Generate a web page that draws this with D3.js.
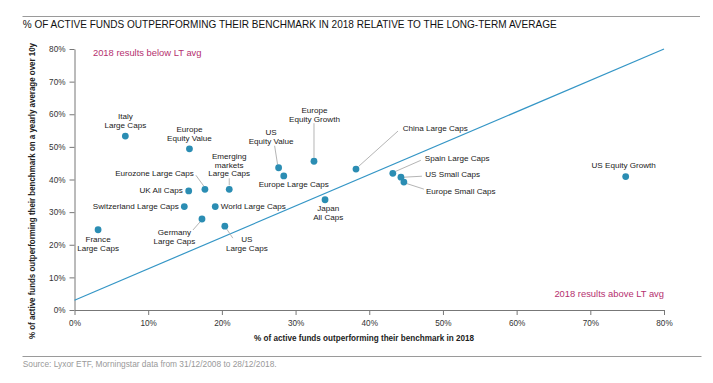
<!DOCTYPE html>
<html>
<head>
<meta charset="utf-8">
<script src="https://cdn.jsdelivr.net/npm/d3@7/dist/d3.min.js"></script>
<style>
  html, body { margin: 0; padding: 0; background: #fff; }
  svg { display: block; font-family: "Liberation Sans", Arial, Helvetica, sans-serif; }
</style>
</head>
<body>
<svg id="chart" width="713" height="383"></svg>
<script>
// ---------- DATA ----------
const funds = [
  "Italy Large Caps", "Europe Equity Value", "Eurozone Large Caps", "Emerging markets Large Caps",
  "UK All Caps", "Switzerland Large Caps", "World Large Caps", "Germany Large Caps",
  "US Large Caps", "France Large Caps", "US Equity Value", "Europe Large Caps",
  "Europe Equity Growth", "China Large Caps", "Japan All Caps", "Spain Large Caps",
  "US Small Caps", "Europe Small Caps", "US Equity Growth"
];
// % of active funds outperforming their benchmark in 2018
const pct2018 = [6.9, 15.6, 17.7, 21.0, 15.5, 14.9, 19.1, 17.3, 20.4, 3.2, 27.7, 28.4, 32.5, 38.2, 34.0, 43.2, 44.3, 44.7, 74.8];
// % outperforming on a yearly average over 10y
const pctLongTerm = [53.3, 49.4, 37.0, 37.0, 36.5, 31.7, 31.7, 27.9, 25.7, 24.6, 43.6, 41.1, 45.6, 43.2, 33.8, 41.9, 40.7, 39.2, 40.9];
// reference (regression) line end points [x, y]
const refLineX = [0, 80];
const refLineY = [3, 80];
const xTicks = [0, 10, 20, 30, 40, 50, 60, 70, 80];
const yTicks = [0, 10, 20, 30, 40, 50, 60, 70, 80];

const titleText = "% OF ACTIVE FUNDS OUTPERFORMING THEIR BENCHMARK IN 2018 RELATIVE TO THE LONG-TERM AVERAGE";
const xTitle = "% of active funds outperforming their benchmark in 2018";
const yTitle = "% of active funds outperforming their benchmark on a yearly average over 10y";
const sourceText = "Source: Lyxor ETF, Morningstar data from 31/12/2008 to 28/12/2018.";
const noteBelow = "2018 results below LT avg";
const noteAbove = "2018 results above LT avg";

// ---------- LABEL LAYOUT (pixel offsets from each point) ----------
const labelLayout = {
  "Italy Large Caps":            {lines:["Italy","Large Caps"], a:"middle", dx:0, dy:-20},
  "Europe Equity Value":         {lines:["Europe","Equity Value"], a:"middle", dx:0, dy:-19.7},
  "Eurozone Large Caps":         {lines:["Eurozone Large Caps"], a:"end", dx:-11, dy:-16, leader:[-1,-3,-9,-14]},
  "Emerging markets Large Caps": {lines:["Emerging","markets","Large Caps"], a:"middle", dx:0, dy:-33, lh:8.4, leader:[0,-4,0,-11]},
  "UK All Caps":                 {lines:["UK All Caps"], a:"end", dx:-6, dy:-1},
  "Switzerland Large Caps":      {lines:["Switzerland Large Caps"], a:"end", dx:-5.5, dy:0},
  "World Large Caps":            {lines:["World Large Caps"], a:"start", dx:5.5, dy:0},
  "Germany Large Caps":          {lines:["Germany","Large Caps"], a:"middle", dx:-27.5, dy:12.7, leader:[-2,3,-9,11]},
  "US Large Caps":               {lines:["US","Large Caps"], a:"middle", dx:22, dy:13, leader:[2,3,8,12]},
  "France Large Caps":           {lines:["France","Large Caps"], a:"middle", dx:0, dy:9.6},
  "US Equity Value":             {lines:["US","Equity Value"], a:"middle", dx:-7.5, dy:-35.4, leader:[-1,-3,-4,-22]},
  "Europe Large Caps":           {lines:["Europe Large Caps"], a:"middle", dx:10, dy:8.3},
  "Europe Equity Growth":        {lines:["Europe","Equity Growth"], a:"middle", dx:0.5, dy:-51, leader:[0,-3.5,0,-38]},
  "China Large Caps":            {lines:["China Large Caps"], a:"start", dx:46.7, dy:-40.7, leader:[3,-3,42,-38]},
  "Japan All Caps":              {lines:["Japan","All Caps"], a:"middle", dx:3.2, dy:8.6},
  "Spain Large Caps":            {lines:["Spain Large Caps"], a:"start", dx:32, dy:-15, leader:[3,-2,28,-13]},
  "US Small Caps":               {lines:["US Small Caps"], a:"start", dx:24.3, dy:-3, leader:[3,0,21,-1]},
  "Europe Small Caps":           {lines:["Europe Small Caps"], a:"start", dx:22, dy:8.7, leader:[3,1.5,20,7]},
  "US Equity Growth":            {lines:["US Equity Growth"], a:"middle", dx:-2, dy:-11.7}
};

// ---------- CHART ----------
const svg = d3.select("#chart");
const x = d3.scaleLinear().domain([0, 80]).range([74.5, 664]);
const y = d3.scaleLinear().domain([0, 80]).range([310, 49]);

const dotColor = "#2b8db3";
const lineColor = "#3596c6";
const noteColor = "#b5306f";
const axisColor = "#777";

// frame lines
svg.append("line").attr("x1", 22.5).attr("x2", 700).attr("y1", 16.5).attr("y2", 16.5)
  .attr("stroke", "#9a9a9a").attr("stroke-width", 1);
svg.append("line").attr("x1", 22.5).attr("x2", 701.5).attr("y1", 356.5).attr("y2", 356.5)
  .attr("stroke", "#9a9a9a").attr("stroke-width", 1);

// title
svg.append("text").attr("x", 22.7).attr("y", 27.6)
  .attr("font-size", 10.8).attr("fill", "#111")
  .attr("textLength", 534).attr("lengthAdjust", "spacingAndGlyphs")
  .text(titleText);

// source
svg.append("text").attr("x", 22.7).attr("y", 367.2)
  .attr("font-size", 8.6).attr("fill", "#999")
  .attr("textLength", 254).attr("lengthAdjust", "spacingAndGlyphs")
  .text(sourceText);

// axes
const xAxis = d3.axisBottom(x).tickValues(xTicks).tickFormat(d => d + "%").tickSize(5).tickSizeOuter(0);
const yAxis = d3.axisLeft(y).tickValues(yTicks).tickFormat(d => d + "%").tickSize(5).tickSizeOuter(0);

const gx = svg.append("g").attr("transform", `translate(0,${y(0)})`).call(xAxis);
const gy = svg.append("g").attr("transform", `translate(${x(0)},0)`).call(yAxis);
[gx, gy].forEach(g => {
  g.select(".domain").attr("stroke", axisColor);
  g.selectAll(".tick line").attr("stroke", axisColor);
  g.selectAll(".tick text").attr("font-size", 8.2).attr("fill", "#333")
    .attr("font-family", "'Liberation Sans', Arial, sans-serif");
});
gx.selectAll(".tick text").attr("dy", "0.95em").attr("y", 8);
gy.selectAll(".tick text").attr("x", -9);

// axis titles
svg.append("text").attr("x", 364).attr("y", 341)
  .attr("text-anchor", "middle").attr("font-size", 8.2).attr("font-weight", "bold").attr("fill", "#222")
  .attr("textLength", 220).attr("lengthAdjust", "spacingAndGlyphs")
  .text(xTitle);
svg.append("text")
  .attr("transform", "translate(35,191) rotate(-90)")
  .attr("text-anchor", "middle").attr("font-size", 8.2).attr("font-weight", "bold").attr("fill", "#222")
  .attr("textLength", 296).attr("lengthAdjust", "spacingAndGlyphs")
  .text(yTitle);

// reference line
svg.append("line")
  .attr("x1", x(refLineX[0])).attr("y1", y(refLineY[0]))
  .attr("x2", x(refLineX[1])).attr("y2", y(refLineY[1]))
  .attr("stroke", lineColor).attr("stroke-width", 1.2);

// notes
svg.append("text").attr("x", x(2.5)).attr("y", y(79)).attr("dy", "0.35em")
  .attr("font-size", 9.4).attr("fill", noteColor).text(noteBelow);
svg.append("text").attr("x", x(80)).attr("y", y(5)).attr("dy", "0.35em")
  .attr("text-anchor", "end").attr("font-size", 9.4).attr("fill", noteColor).text(noteAbove);

// data
const data = funds.map((name, i) => ({name, xv: pct2018[i], yv: pctLongTerm[i]}));

// leaders
const leaders = svg.append("g");
data.forEach(d => {
  const L = labelLayout[d.name];
  if (L && L.leader) {
    const px = x(d.xv), py = y(d.yv);
    leaders.append("line")
      .attr("x1", px + L.leader[0]).attr("y1", py + L.leader[1])
      .attr("x2", px + L.leader[2]).attr("y2", py + L.leader[3])
      .attr("stroke", "#b5b5b5").attr("stroke-width", 1);
  }
});

// labels
const labels = svg.append("g");
data.forEach(d => {
  const L = labelLayout[d.name];
  const px = x(d.xv), py = y(d.yv);
  const lh = L.lh || 9;
  const t = labels.append("text")
    .attr("text-anchor", L.a).attr("font-size", 8.1).attr("fill", "#1a1a1a");
  L.lines.forEach((ln, k) => {
    t.append("tspan").attr("x", px + L.dx).attr("y", py + L.dy + k * lh).attr("dy", "0.35em").text(ln);
  });
});

// points
svg.append("g").selectAll("circle").data(data).join("circle")
  .attr("cx", d => x(d.xv)).attr("cy", d => y(d.yv)).attr("r", 3.4)
  .attr("fill", dotColor);
</script>
</body>
</html>
